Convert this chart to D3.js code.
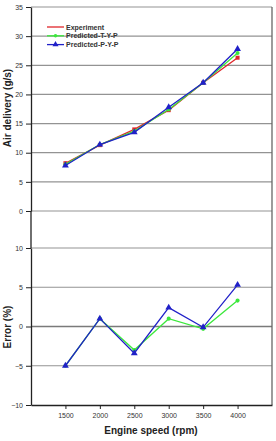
<!DOCTYPE html>
<html>
<head>
<meta charset="utf-8">
<script src="https://cdn.jsdelivr.net/npm/d3@7"></script>
<style>
  body { margin: 0; background: #fff; }
  svg { display: block; font-family: Arial, "Liberation Sans", sans-serif; }
</style>
</head>
<body>
<svg width="276" height="441"></svg>
<script>
var speeds = [1500, 2000, 2500, 3000, 3500, 4000];

// air delivery (g/s)
var experiment = [8.2, 11.3, 14.0, 17.3, 22.0, 26.3];
var predTYP    = [8.0, 11.4, 13.7, 17.4, 22.0, 27.1];
var predPYP    = [7.8, 11.4, 13.5, 17.8, 22.0, 27.8];

// error (%)
var errTYP = [-5.0, 1.0, -3.0, 1.0, -0.3, 3.3];
var errPYP = [-5.0, 1.0, -3.4, 2.4, -0.1, 5.3];

var topTicks = [0, 5, 10, 15, 20, 25, 30, 35];
var botTicks = [-10, -5, 0, 5, 10];
var xTicks = [1500, 2000, 2500, 3000, 3500, 4000];

var svg = d3.select("svg");
var left = 31, right = 272;

var x = d3.scaleLinear().domain([1000, 4500]).range([left, right]);
var yTop = d3.scaleLinear().domain([0, 35]).range([211, 7]);
var yBot = d3.scaleLinear().domain([-10, 10]).range([405, 248]);

// gridlines
svg.append("g").selectAll("line")
  .data(topTicks)
  .enter().append("line")
  .attr("x1", left).attr("x2", right)
  .attr("y1", function(d) { return yTop(d); })
  .attr("y2", function(d) { return yTop(d); })
  .attr("stroke", "#939393").attr("stroke-width", 1.2);

svg.append("g").selectAll("line")
  .data(botTicks.filter(function(d) { return d > -10; }))
  .enter().append("line")
  .attr("x1", left).attr("x2", right)
  .attr("y1", function(d) { return yBot(d); })
  .attr("y2", function(d) { return yBot(d); })
  .attr("stroke", function(d) { return d === 0 ? "#7a7a7a" : "#939393"; })
  .attr("stroke-width", function(d) { return d === 0 ? 1.6 : 1.2; });

// right border
svg.append("line")
  .attr("x1", right).attr("x2", right).attr("y1", 7).attr("y2", 405)
  .attr("stroke", "#666").attr("stroke-width", 1.3);

// axes
function styleAxis(g) {
  g.select(".domain").attr("stroke", "#222").attr("stroke-width", 1.3);
  g.selectAll(".tick line").attr("stroke", "#222").attr("stroke-width", 1);
  g.selectAll(".tick text").attr("fill", "#333").style("font-size", "7px");
}

svg.append("g")
  .attr("transform", "translate(" + left + ",0)")
  .call(d3.axisLeft(yTop).tickValues(topTicks).tickSize(5).tickSizeOuter(0).tickPadding(3))
  .call(styleAxis);

svg.append("g")
  .attr("transform", "translate(" + left + ",0)")
  .call(d3.axisLeft(yBot).tickValues(botTicks).tickSize(5).tickSizeOuter(0).tickPadding(3))
  .call(styleAxis);

// connect the two left axis segments
svg.append("line")
  .attr("x1", left).attr("x2", left).attr("y1", 211).attr("y2", 248)
  .attr("stroke", "#222").attr("stroke-width", 1.3);

svg.append("g")
  .attr("transform", "translate(0,405)")
  .call(d3.axisBottom(x).tickValues(xTicks).tickFormat(d3.format("d"))
    .tickSize(4).tickSizeOuter(0).tickPadding(4))
  .call(styleAxis);

// axis titles
svg.append("text")
  .attr("transform", "translate(11,108) rotate(-90)")
  .attr("text-anchor", "middle")
  .style("font-size", "10px").style("font-weight", "bold").attr("fill", "#222")
  .text("Air delivery (g/s)");

svg.append("text")
  .attr("transform", "translate(11,327) rotate(-90)")
  .attr("text-anchor", "middle")
  .style("font-size", "10px").style("font-weight", "bold").attr("fill", "#222")
  .text("Error (%)");

svg.append("text")
  .attr("x", 151).attr("y", 434)
  .attr("text-anchor", "middle")
  .style("font-size", "10px").style("font-weight", "bold").attr("fill", "#222")
  .text("Engine speed (rpm)");

// series
var red = "#e0262a", green = "#3be83b", blue = "#2020c8";

function drawSeries(values, y, color, marker) {
  var pts = speeds.map(function(s, i) { return [s, values[i]]; });
  var line = d3.line()
    .x(function(d) { return x(d[0]); })
    .y(function(d) { return y(d[1]); });
  var g = svg.append("g");
  g.append("path")
    .attr("d", line(pts))
    .attr("fill", "none")
    .attr("stroke", color)
    .attr("stroke-width", 1.3);
  var sym = marker === "square" ? d3.symbolSquare : marker === "circle" ? d3.symbolCircle : d3.symbolTriangle;
  var size = marker === "square" ? 16 : marker === "circle" ? 13 : 20;
  g.selectAll("path.m")
    .data(pts)
    .enter().append("path")
    .attr("class", "m")
    .attr("d", d3.symbol().type(sym).size(size))
    .attr("transform", function(d) { return "translate(" + x(d[0]) + "," + y(d[1]) + ")"; })
    .attr("fill", color);
}

drawSeries(experiment, yTop, red, "square");
drawSeries(predTYP, yTop, green, "circle");
drawSeries(predPYP, yTop, blue, "triangle");

drawSeries(errTYP, yBot, green, "circle");
drawSeries(errPYP, yBot, blue, "triangle");

// legend
var legendItems = ["Experiment", "Predicted-T-Y-P", "Predicted-P-Y-P"];
var legendColors = [red, green, blue];
var legendMarkers = [null, d3.symbolCircle, d3.symbolTriangle];

var lg = svg.append("g");
legendItems.forEach(function(name, i) {
  var ly = 27 + i * 8.8;
  lg.append("line")
    .attr("x1", 47).attr("x2", 64).attr("y1", ly).attr("y2", ly)
    .attr("stroke", legendColors[i]).attr("stroke-width", 1.3);
  if (legendMarkers[i]) {
    lg.append("path")
      .attr("d", d3.symbol().type(legendMarkers[i]).size(i === 1 ? 10 : 16))
      .attr("transform", "translate(55.5," + ly + ")")
      .attr("fill", legendColors[i]);
  }
  lg.append("text")
    .attr("x", 66).attr("y", ly + 2.5)
    .style("font-size", "7px").style("font-weight", "bold").attr("fill", "#333")
    .text(name);
});
</script>
</body>
</html>
